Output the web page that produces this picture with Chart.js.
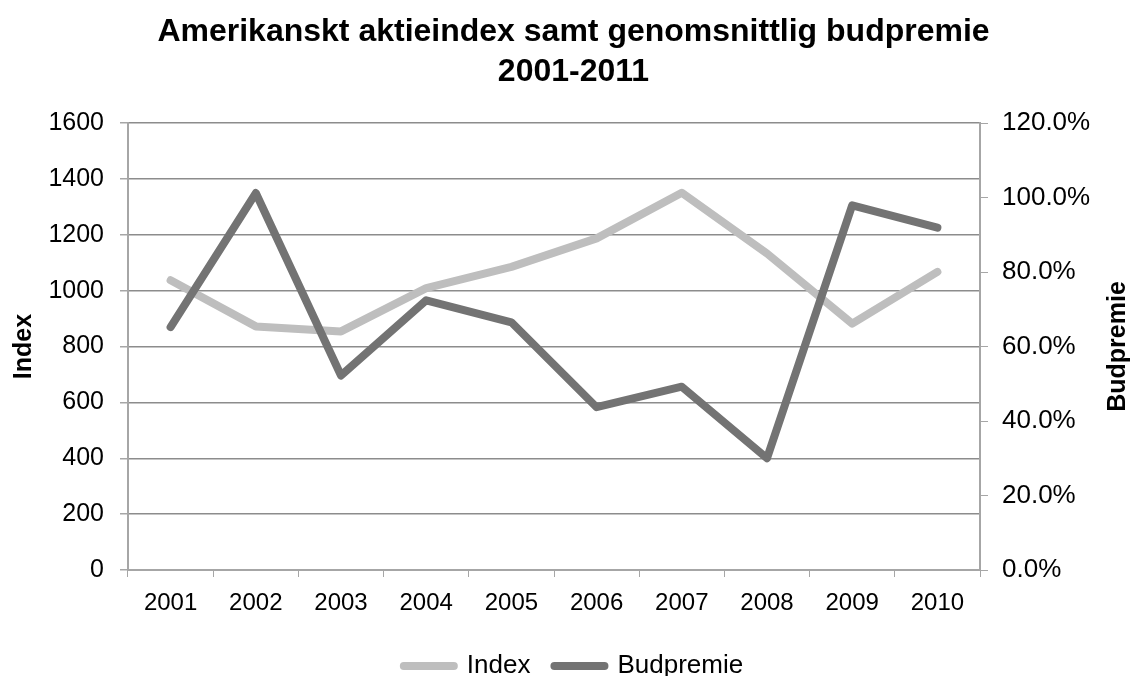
<!DOCTYPE html>
<html>
<head>
<meta charset="utf-8">
<script src="https://cdn.jsdelivr.net/npm/chart.js@4.4.0/dist/chart.umd.min.js"></script>
<style>
    html, body { margin: 0; padding: 0; background: #fff; }
    #wrap { width: 1135px; height: 676px; }
</style>
</head>
<body>
<div id="wrap"><canvas id="myChart" width="1135" height="676"></canvas></div>
<script>
const years = ['2001', '2002', '2003', '2004', '2005', '2006', '2007', '2008', '2009', '2010']
const indexValues = [1037, 872, 854, 1009, 1085, 1187, 1350, 1133, 882, 1067]
const budpremieValues = [0.652, 1.012, 0.522, 0.724, 0.665, 0.437, 0.492, 0.300, 0.979, 0.919]
const titleLines = ['Amerikanskt aktieindex samt genomsnittlig budpremie', '2001-2011']

const font = 'Liberation Sans, Arial, sans-serif'
const gridColor = '#8c8c8c'
const axisColor = '#a6a6a6'

// the right axis title in the picture reads bottom-to-top, chart.js turns it the other way
const rightTitle = {
    id: 'rightTitle',
    afterDraw(chart) {
        const scale = chart.scales.y1
        const c = chart.ctx
        c.save()
        c.translate(scale.right - 17, (chart.chartArea.top + chart.chartArea.bottom) / 2)
        c.rotate(-Math.PI / 2)
        c.font = 'bold 25px ' + font
        c.fillStyle = '#000'
        c.textAlign = 'center'
        c.textBaseline = 'middle'
        c.fillText('Budpremie', 0, 0)
        c.restore()
    }
}

const ctx = document.getElementById('myChart')
const myChart = new Chart(ctx, {
    type: 'line',
    data: {
        labels: years,
        datasets: [{
            label: 'Index',
            data: indexValues,
            yAxisID: 'y',
            borderColor: '#bebebe',
            backgroundColor: '#bebebe',
            borderWidth: 8,
            borderCapStyle: 'round',
            borderJoinStyle: 'round',
            pointRadius: 0,
            tension: 0,
            fill: false
        },
        {
            label: 'Budpremie',
            data: budpremieValues,
            yAxisID: 'y1',
            order: -1,
            borderColor: '#737373',
            backgroundColor: '#737373',
            borderWidth: 8,
            borderCapStyle: 'round',
            borderJoinStyle: 'round',
            pointRadius: 0,
            tension: 0,
            fill: false
        }]
    },
    plugins: [rightTitle],
    options: {
        responsive: false,
        animation: false,
        layout: { padding: { left: 12, right: 0, top: 0, bottom: -13 } },
        plugins: {
            tooltip: { enabled: false },
            title: {
                display: true,
                text: titleLines,
                color: '#000',
                font: { family: font, size: 32, weight: 'bold', lineHeight: 1.25 },
                padding: { top: 12, bottom: 31 }
            },
            legend: {
                position: 'bottom',
                labels: {
                    usePointStyle: true,
                    pointStyleWidth: 50,
                    pointStyle: 'line',
                    color: '#000',
                    font: { family: font, size: 26, lineHeight: 1 },
                    padding: 24,
                    sort: (a, b) => a.datasetIndex - b.datasetIndex,
                    generateLabels: (chart) => Chart.defaults.plugins.legend.labels.generateLabels(chart)
                        .map(item => ({ ...item, lineCap: 'round', lineWidth: 8 }))
                }
            }
        },
        scales: {
            x: {
                offset: true,
                afterFit: (scale) => { scale.height = 59 },
                grid: {
                    offset: true,
                    drawOnChartArea: false,
                    drawTicks: true,
                    tickLength: 7,
                    color: axisColor
                },
                border: { color: axisColor, width: 2 },
                ticks: {
                    color: '#000',
                    font: { family: font, size: 24 },
                    padding: 12,
                    maxRotation: 0
                }
            },
            y: {
                position: 'left',
                min: 0,
                max: 1600,
                afterFit: (scale) => { scale.width = 116 },
                ticks: {
                    stepSize: 200,
                    color: '#000',
                    font: { family: font, size: 25 },
                    padding: 16,
                    callback: (value) => String(value)
                },
                grid: {
                    color: gridColor,
                    lineWidth: 1.5,
                    tickLength: 8,
                    tickColor: axisColor
                },
                border: { color: axisColor, width: 2 },
                title: {
                    display: true,
                    text: 'Index',
                    color: '#000',
                    font: { family: font, size: 25, weight: 'bold', lineHeight: 1 },
                    padding: 0
                }
            },
            y1: {
                position: 'right',
                min: 0,
                max: 1.2,
                afterFit: (scale) => { scale.width = 155 },
                ticks: {
                    stepSize: 0.2,
                    color: '#000',
                    font: { family: font, size: 26 },
                    padding: 14,
                    callback: (value) => (value * 100).toFixed(1) + '%'
                },
                grid: {
                    drawOnChartArea: false,
                    tickLength: 8,
                    color: axisColor
                },
                border: { color: axisColor, width: 2 }
            }
        }
    }
})
</script>
</body>
</html>
